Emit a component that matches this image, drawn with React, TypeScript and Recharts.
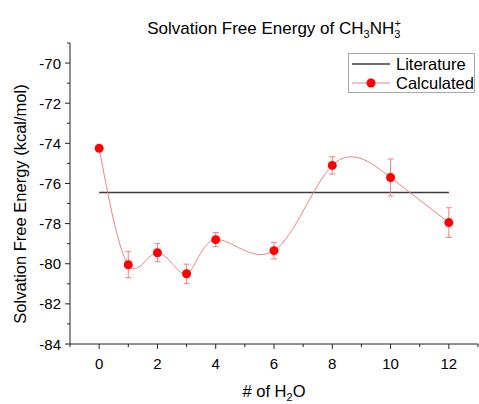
import React from "react";
import { LineChart, Line, XAxis, YAxis, ErrorBar } from "recharts";

const nWater = [0, 1, 2, 3, 4, 6, 8, 10, 12];
const calculated = [-74.25, -80.05, -79.45, -80.5, -78.8, -79.35, -75.1, -75.7, -77.95];
const calcError = [0, 0.65, 0.45, 0.48, 0.35, 0.41, 0.43, 0.92, 0.74];
const literatureValue = -76.45;
const literatureRange = [0, 12];

const xTicks = [-1, 0, 1, 2, 3, 4, 5, 6, 7, 8, 9, 10, 11, 12, 13];
const yTicks = [-84, -83, -82, -81, -80, -79, -78, -77, -76, -75, -74, -73, -72, -71, -70, -69];

const calcData = nWater.map((n, i) => ({ n, calc: calculated[i], err: calcError[i] }));
const litData = literatureRange.map((n) => ({ n, lit: literatureValue }));

const FONT = "'Liberation Sans', Arial, sans-serif";
const AXIS = "#222";
const CALC_LINE = "#ee8383";

const XTick = (props: any) => {
  const { x, y, payload } = props;
  const v = payload.value;
  const major = v % 2 === 0 && v >= 0 && v <= 12;
  return (
    <g>
      <line x1={x} x2={x} y1={y} y2={y + (major ? 5 : 3)} stroke={AXIS} />
      {major && (
        <text x={x} y={y + 25} textAnchor="middle" fontSize={15} fontFamily={FONT} fill="#000">
          {v}
        </text>
      )}
    </g>
  );
};

const YTick = (props: any) => {
  const { x, y, payload } = props;
  const v = payload.value;
  const major = v % 2 === 0;
  return (
    <g>
      <line x1={x - (major ? 5 : 3)} x2={x} y1={y} y2={y} stroke={AXIS} />
      {major && (
        <text x={x - 9} y={y + 5.5} textAnchor="end" fontSize={15} fontFamily={FONT} fill="#000">
          {v}
        </text>
      )}
    </g>
  );
};

export default function App() {
  return (
    <div style={{ position: "absolute", left: 0, top: 0, width: 479, height: 404, background: "#fff", fontFamily: FONT }}>
      <LineChart width={479} height={404} margin={{ top: 43, right: 1, bottom: 0, left: 0 }}>
        <XAxis
          dataKey="n"
          type="number"
          domain={[-1, 13]}
          ticks={xTicks}
          interval={0}
          height={60}
          tickSize={0}
          tickMargin={0}
          tickLine={false}
          tick={<XTick />}
          stroke={AXIS}
          allowDataOverflow
        />
        <YAxis
          type="number"
          domain={[-84, -69]}
          ticks={yTicks}
          interval={0}
          width={70}
          tickSize={0}
          tickMargin={0}
          tickLine={false}
          tick={<YTick />}
          stroke={AXIS}
          allowDataOverflow
        />
        <Line
          data={litData}
          dataKey="lit"
          type="linear"
          stroke="#3c3c3c"
          strokeWidth={1.5}
          dot={false}
          activeDot={false}
          isAnimationActive={false}
        />
        <Line
          data={calcData}
          dataKey="calc"
          type="natural"
          stroke={CALC_LINE}
          strokeWidth={1}
          dot={{ r: 4.5, fill: "#ff0000", stroke: "#ff0000", strokeWidth: 0 }}
          activeDot={false}
          isAnimationActive={false}
        >
          <ErrorBar dataKey="err" direction="y" width={3} stroke={CALC_LINE} strokeWidth={1} />
        </Line>
      </LineChart>

      <div style={{ position: "absolute", left: 0, width: 548, top: 13, textAlign: "center", fontSize: 17, lineHeight: "20px", color: "#000", whiteSpace: "nowrap" }}>
        Solvation Free Energy of CH<sub style={{ fontSize: 11 }}>3</sub>NH<sub style={{ fontSize: 11 }}>3</sub>
        <sup style={{ fontSize: 11, marginLeft: -6 }}>+</sup>
      </div>

      <div style={{ position: "absolute", left: 0, width: 548, top: 381, textAlign: "center", fontSize: 16.5, lineHeight: "20px", color: "#000", whiteSpace: "nowrap" }}>
        # of H<sub style={{ fontSize: 11 }}>2</sub>O
      </div>

      <div
        style={{
          position: "absolute",
          left: 20,
          top: 204,
          transform: "translate(-50%, -50%) rotate(-90deg)",
          fontSize: 16.5,
          lineHeight: "20px",
          color: "#000",
          whiteSpace: "nowrap",
        }}
      >
        Solvation Free Energy (kcal/mol)
      </div>

      <div
        style={{
          position: "absolute",
          left: 348,
          top: 53,
          width: 125,
          height: 38,
          border: "1px solid #a8a8a8",
          background: "#fff",
          fontSize: 16.5,
          color: "#000",
        }}
      >
        <div style={{ position: "absolute", left: 3, top: 0, height: 20, display: "flex", alignItems: "center" }}>
          <svg width={38} height={20}>
            <line x1={0} x2={38} y1={10} y2={10} stroke="#3c3c3c" strokeWidth={1.5} />
          </svg>
          <span style={{ marginLeft: 6, lineHeight: "20px" }}>Literature</span>
        </div>
        <div style={{ position: "absolute", left: 3, top: 19, height: 20, display: "flex", alignItems: "center" }}>
          <svg width={38} height={20}>
            <line x1={0} x2={38} y1={10} y2={10} stroke={CALC_LINE} strokeWidth={1} />
            <circle cx={19} cy={10} r={4.5} fill="#ff0000" />
          </svg>
          <span style={{ marginLeft: 6, lineHeight: "20px" }}>Calculated</span>
        </div>
      </div>
    </div>
  );
}
